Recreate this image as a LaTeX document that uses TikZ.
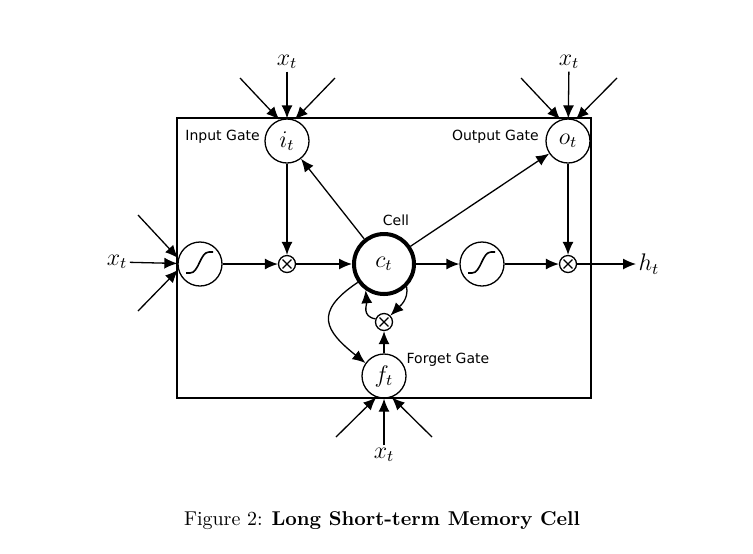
\documentclass[tikz,border=0pt]{standalone}
\usepackage{amsmath,amssymb}
\usepackage{fontspec}
\usetikzlibrary{arrows.meta, positioning}
\newfontfamily\gatefont{DejaVu Sans}

\begin{document}
\begin{tikzpicture}[
    x=0.5pt, y=0.5pt,
    line width=0.65pt,
    gate/.style={circle, draw, minimum size=22pt, inner sep=0pt, font=\large},
    squash/.style={gate, path picture={
        \draw[line width=0.8pt] ([shift={(-7pt,-4.5pt)}]path picture bounding box.center)
            -- ++(2pt,0pt)
            .. controls +(4.5pt,0pt) and +(-4.5pt,0pt) ..
            ([shift={(4.5pt,6pt)}]path picture bounding box.center)
            -- ++(2pt,0pt);}},
    mult/.style={circle, draw, minimum size=8.5pt, inner sep=0pt, path picture={
        \draw ([shift={(-2.2pt,-2.2pt)}]path picture bounding box.center)
            -- ([shift={(2.2pt,2.2pt)}]path picture bounding box.center)
            ([shift={(-2.2pt,2.2pt)}]path picture bounding box.center)
            -- ([shift={(2.2pt,-2.2pt)}]path picture bounding box.center);}},
    cellnode/.style={circle, draw, line width=2pt, minimum size=30pt,
                     inner sep=0pt, font=\large},
    var/.style={inner sep=1pt, font=\large},
    lbl/.style={inner sep=1pt, font=\gatefont\fontsize{7}{8}\selectfont},
    arrow/.style={-{Latex[length=6.5pt, width=5.5pt]}},
]
\useasboundingbox (0,0) rectangle (753,-553);
\node[draw, minimum width=207pt, minimum height=140pt, inner sep=0pt] (frame) at (384,-258) {};

\node[squash] (sigin) at (200,-264) {};
\node[mult] (multin) at (287,-264) {};
\node[cellnode] (cell) at (384,-264) {$c_t$};
\node[squash] (sigout) at (482,-264) {};
\node[mult] (multout) at (568,-264) {};
\node[gate] (igate) at (287,-141) {$i_t$};
\node[gate] (ogate) at (568,-141) {$o_t$};
\node[mult] (multf) at (384,-322) {};
\node[gate] (fgate) at (384,-376) {$f_t$};

\node[var] (xin) at (117,-262) {$x_t$};
\node[var] (xi) at (287,-62) {$x_t$};
\node[var] (xo) at (569,-62) {$x_t$};
\node[var] (xf) at (384,-455) {$x_t$};
\node[var] (ht) at (649,-264) {$h_t$};

\coordinate (inA) at (138,-215);
\coordinate (inB) at (138,-311);
\coordinate (iA) at (240,-78);
\coordinate (iB) at (335,-78);
\coordinate (oA) at (521,-78);
\coordinate (oB) at (617,-78);
\coordinate (fA) at (336,-437);
\coordinate (fB) at (432,-437);

\node[lbl, left=1pt of igate, yshift=2pt] (ilbl) {Input Gate};
\node[lbl, left=2pt of ogate, yshift=2pt] (olbl) {Output Gate};
\node[lbl, above=2pt of cell, xshift=6pt] (clbl) {Cell};
\node[lbl, right=2pt of fgate.north east] (flbl) {Forget Gate};

\draw[arrow] (xin) -- (sigin);
\draw[arrow] (inA) -- (sigin.165);
\draw[arrow] (inB) -- (sigin.195);
\draw[arrow] (xi) -- (igate);
\draw[arrow] (iA) -- (igate.110);
\draw[arrow] (iB) -- (igate.70);
\draw[arrow] (xo) -- (ogate);
\draw[arrow] (oA) -- (ogate.110);
\draw[arrow] (oB) -- (ogate.70);
\draw[arrow] (xf) -- (fgate);
\draw[arrow] (fA) -- (fgate.250);
\draw[arrow] (fB) -- (fgate.290);

\draw[arrow] (sigin) -- (multin);
\draw[arrow] (multin) -- (cell);
\draw[arrow] (igate) -- (multin);
\draw[arrow] (cell) -- (igate);
\draw[arrow] (cell) -- (ogate);
\draw[arrow] (cell) -- (sigout);
\draw[arrow] (sigout) -- (multout);
\draw[arrow] (ogate) -- (multout);
\draw[arrow] (multout) -- (ht);
\draw[arrow] (fgate) -- (multf);
\draw[arrow] (multf.160) to[out=170, in=275, looseness=1.2] (cell.235);
\draw[arrow] (cell.-45) to[out=-80, in=45] (multf.45);
\draw[arrow] (cell.215) .. controls +(-45,-30) and +(-40,32) .. (fgate.145);

\node (caption) at (382,-521) {Figure 2: \textbf{Long Short-term Memory Cell}};
\end{tikzpicture}
\end{document}
